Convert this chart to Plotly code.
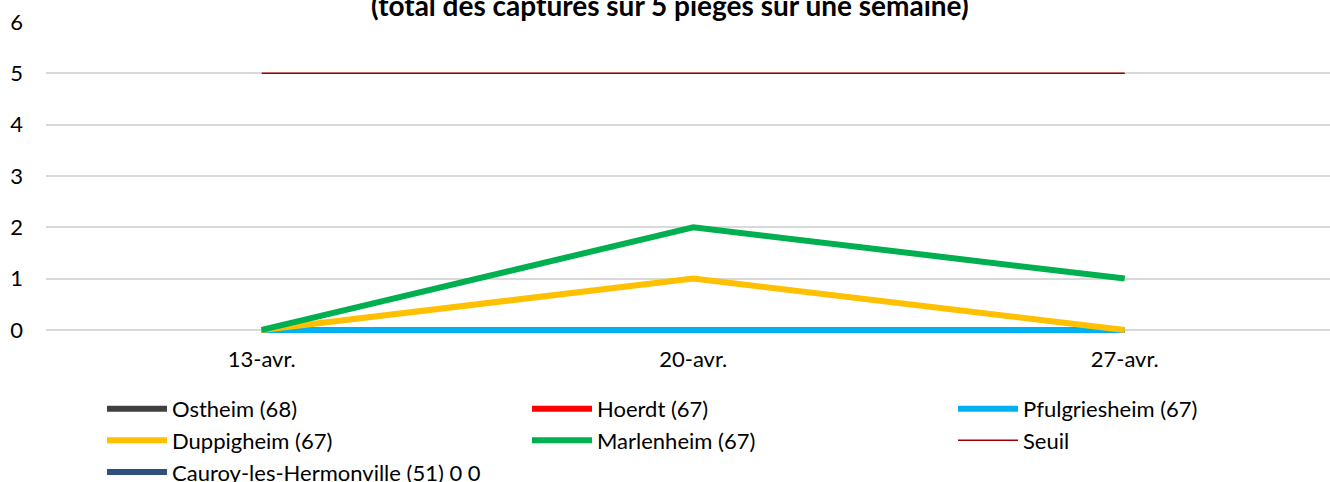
import plotly.graph_objects as go

dates = ["13-avr.", "20-avr.", "27-avr."]
ostheim = [0, 0, 0]
hoerdt = [0, 0, 0]
pfulgriesheim = [0, 0, 0]
duppigheim = [0, 1, 0]
marlenheim = [0, 2, 1]
seuil = [5, 5, 5]
cauroy = [None, None, None]

title_text = "(total des captures sur 5 pièges sur une semaine)"

FONT = "Lato"
TXT = "#000000"

series = [
    ("Ostheim (68)", ostheim, "#404040", 6, "legend", 0),
    ("Hoerdt (67)", hoerdt, "#FF0000", 6, "legend2", 0),
    ("Pfulgriesheim (67)", pfulgriesheim, "#00B0F0", 6, "legend3", 0),
    ("Duppigheim (67)", duppigheim, "#FFC000", 6, "legend", 1),
    ("Marlenheim (67)", marlenheim, "#00B050", 6, "legend2", 1),
    ("Seuil", seuil, "#A00000", 1.5, "legend3", 1),
    ("Cauroy-les-Hermonville (51) 0 0", cauroy, "#2F4F7F", 6, "legend", 2),
]

fig = go.Figure()
for name, vals, col, w, leg, rank in series:
    fig.add_trace(go.Scatter(
        x=dates, y=vals, name=name, mode="lines",
        line=dict(color=col, width=w),
        legend=leg, legendgroup=name, legendrank=rank,
        hoverinfo="skip",
    ))

W, H = 1330, 482
unit = 51.33
ymin = -0.06
L, T = 46, 22
plot_h = (6 - ymin) * unit
B = H - T - plot_h
plot_w = W - L
step = 431.5
xmax = -0.5 + plot_w / step

def px_to_paper_y(p):
    return (T + plot_h - p) / plot_h

def px_to_paper_x(p):
    return (p - L) / plot_w

legend_common = dict(
    orientation="v", bgcolor="rgba(0,0,0,0)", borderwidth=0,
    font=dict(family=FONT, size=22, color=TXT),
    itemwidth=60, tracegroupgap=5, yanchor="top", xanchor="left",
    yref="paper", xref="paper", traceorder="normal",
)

fig.update_layout(
    width=W, height=H,
    margin=dict(l=L, r=0, t=T, b=B, pad=0, autoexpand=False),
    paper_bgcolor="white", plot_bgcolor="white",
    font=dict(family=FONT, size=22, color=TXT),
    showlegend=True,
    xaxis=dict(
        type="category", range=[-0.5, xmax],
        showgrid=False, zeroline=False, showline=False,
        ticks="", ticklabelstandoff=11,
        tickfont=dict(family=FONT, size=22, color=TXT),
        fixedrange=True,
    ),
    yaxis=dict(
        range=[ymin, 6], dtick=1, tick0=0,
        showgrid=True, gridcolor="#D9D9D9", gridwidth=1.5,
        zeroline=True, zerolinecolor="#D9D9D9", zerolinewidth=1.5,
        showline=False, ticks="", ticklabelstandoff=22,
        tickfont=dict(family=FONT, size=22, color=TXT),
        fixedrange=True,
    ),
    legend=dict(legend_common, x=px_to_paper_x(102), y=px_to_paper_y(388)),
    legend2=dict(legend_common, x=px_to_paper_x(527), y=px_to_paper_y(388)),
    legend3=dict(legend_common, x=px_to_paper_x(953), y=px_to_paper_y(388)),
    annotations=[dict(
        text="<b>" + title_text + "</b>",
        xref="paper", yref="paper",
        x=px_to_paper_x(670), y=px_to_paper_y(24),
        xanchor="center", yanchor="bottom", showarrow=False,
        font=dict(family=FONT, size=28, color=TXT),
    )],
)

fig.write_html(
    "out.html",
    config={"displayModeBar": False, "staticPlot": False},
    post_script="document.body.style.margin='0';document.body.style.overflow='hidden';",
)
